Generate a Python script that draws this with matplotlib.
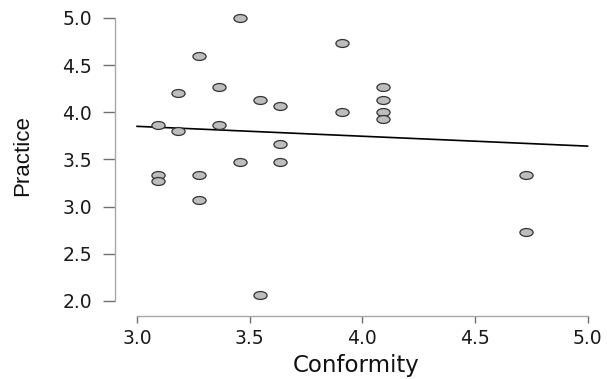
import matplotlib
matplotlib.use("Agg")
import matplotlib.pyplot as plt
import numpy as np
from matplotlib.path import Path
from matplotlib.transforms import Affine2D

# data
conformity = [3.091, 3.091, 3.091, 3.182, 3.182, 3.273, 3.273, 3.273,
              3.364, 3.364, 3.455, 3.455, 3.545, 3.545, 3.636, 3.636,
              3.636, 3.909, 3.909, 4.091, 4.091, 4.091, 4.091, 4.727, 4.727]
practice = [3.867, 3.333, 3.267, 4.200, 3.800, 4.600, 3.333, 3.067,
            4.267, 3.867, 5.000, 3.467, 4.133, 2.067, 4.067, 3.667,
            3.467, 4.733, 4.000, 4.267, 4.133, 4.000, 3.933, 3.333, 2.733]
xticks = [3.0, 3.5, 4.0, 4.5, 5.0]
yticks = [2.0, 2.5, 3.0, 3.5, 4.0, 4.5, 5.0]

W, H = 607, 379
fig = plt.figure(figsize=(W / 100, H / 100), dpi=100)
l, r, b, t = 115, 590, 316, 15
ax = fig.add_axes([l / W, (H - b) / H, (r - l) / W, (b - t) / H])

# squashed circle marker, like the reference
ell = Path.unit_circle().transformed(Affine2D().scale(1.0, 0.6))
ax.plot(conformity, practice, linestyle="none", marker=ell, markersize=9.5,
        markerfacecolor="#bdbdbd", markeredgecolor="#333333",
        markeredgewidth=0.9, clip_on=False, zorder=3)

# least squares line
slope, icpt = np.polyfit(conformity, practice, 1)
xs = np.array([3.0, 5.0])
ax.plot(xs, icpt + slope * xs, color="black", linewidth=1.2, zorder=2)

ax.set_xlim(2.902, 5.011)
ax.set_ylim(1.84, 5.03)

for s in ["top", "right"]:
    ax.spines[s].set_visible(False)
ax.spines["left"].set_bounds(2.0, 5.0)
ax.spines["bottom"].set_bounds(3.0, 5.0)
for s in ["left", "bottom"]:
    ax.spines[s].set_color("#a8a8a8")
    ax.spines[s].set_linewidth(1.0)

ax.set_xticks(xticks)
ax.set_yticks(yticks)
ax.set_xticklabels(["%.1f" % v for v in xticks])
ax.set_yticklabels(["%.1f" % v for v in yticks])
ax.tick_params(axis="y", length=8.6, width=1.0, color="#707070", pad=8,
               labelsize=13.5, labelcolor="#1a1a1a")
ax.tick_params(axis="x", length=5, width=1.0, color="#707070", pad=4,
               labelsize=13.5, labelcolor="#1a1a1a")

ax.set_xlabel("Conformity", fontsize=16.5, color="#111111", va="center")
ax.xaxis.set_label_coords(0.507, -0.166)
ax.set_ylabel("Practice", fontsize=16, family="Liberation Sans",
              color="#111111", va="center")
ax.yaxis.set_label_coords(-0.194, 0.532)

fig.savefig("out.png", dpi=100)
